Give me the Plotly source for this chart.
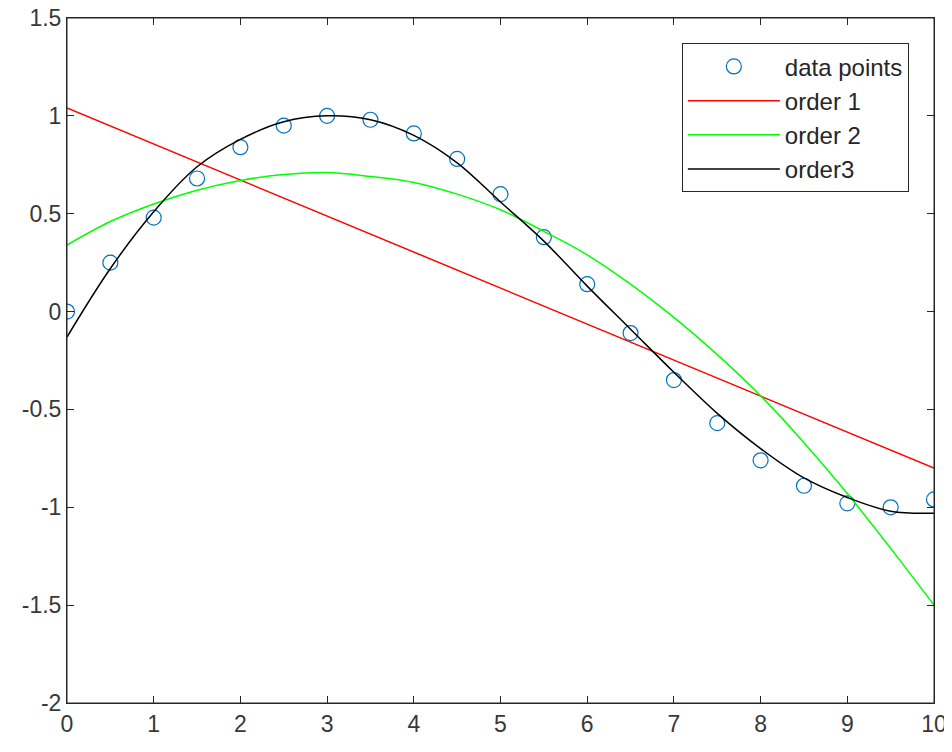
import plotly.graph_objects as go

# sample positions and measured data
x_pts = [0, 0.5, 1, 1.5, 2, 2.5, 3, 3.5, 4, 4.5, 5, 5.5, 6, 6.5, 7, 7.5, 8, 8.5, 9, 9.5, 10]
y_pts = [0.0, 0.25, 0.48, 0.68, 0.84, 0.95, 1.0, 0.98, 0.91, 0.78, 0.60, 0.38, 0.14, -0.11,
         -0.35, -0.57, -0.76, -0.89, -0.98, -1.0, -0.96]

# fitted curves
x_lin = [0, 10]
y_order1 = [1.04, -0.80]
y_order2 = [0.34, 0.46, 0.55, 0.62, 0.67, 0.70, 0.71, 0.69, 0.66, 0.60, 0.52, 0.41, 0.29,
            0.14, -0.03, -0.22, -0.43, -0.67, -0.93, -1.21, -1.50]
y_order3 = [-0.13, 0.22, 0.51, 0.74, 0.88, 0.97, 1.0, 0.98, 0.90, 0.76, 0.56, 0.36, 0.13,
            -0.09, -0.31, -0.52, -0.70, -0.85, -0.95, -1.02, -1.03]

y_ticks = [-2, -1.5, -1, -0.5, 0, 0.5, 1, 1.5]
y_ticktext = ['-2', '-1.5', '-1', '-0.5', '0', '0.5', '1', '1.5']
x_ticks = [0, 1, 2, 3, 4, 5, 6, 7, 8, 9, 10]

fig = go.Figure()
fig.add_trace(go.Scatter(x=x_pts, y=y_pts, mode='markers', name='data points',
                         marker=dict(symbol='circle-open', size=15, color='#0072BD',
                                     line=dict(width=1.2, color='#0072BD'))))
fig.add_trace(go.Scatter(x=x_lin, y=y_order1, mode='lines', name='order 1',
                         line=dict(color='#FF0000', width=1.5)))
fig.add_trace(go.Scatter(x=x_pts, y=y_order2, mode='lines', name='order 2', line_shape='spline',
                         line=dict(color='#00FF00', width=1.5)))
fig.add_trace(go.Scatter(x=x_pts, y=y_order3, mode='lines', name='order3', line_shape='spline',
                         line=dict(color='#000000', width=1.5)))

axis_style = dict(showgrid=False, zeroline=False, showline=True, linecolor='#262626',
                  linewidth=1, mirror='ticks', ticks='inside', ticklen=7, tickcolor='#262626',
                  automargin=False, ticklabeloverflow='allow',
                  tickfont=dict(family='Liberation Sans, Arial', size=23, color='#383838'))

# page body adds 8px around the figure
fig.update_layout(
    width=944, height=736,
    margin=dict(l=59, r=18, t=10, b=41),
    plot_bgcolor='white', paper_bgcolor='white',
    xaxis=dict(range=[0, 10], tickvals=x_ticks, **axis_style),
    yaxis=dict(range=[-2, 1.5], tickvals=y_ticks, ticktext=y_ticktext, **axis_style),
    legend=dict(x=0.971, y=0.963, xanchor='right', yanchor='top',
                bgcolor='white', bordercolor='#262626', borderwidth=1,
                itemwidth=92,
                font=dict(family='Liberation Sans, Arial', size=24, color='#262626')),
    shapes=[dict(type='rect', xref='paper', yref='paper', x0=0, x1=1, y0=0, y1=1,
                 line=dict(color='#262626', width=1), layer='above')],
)

fig.write_html("out.html")
